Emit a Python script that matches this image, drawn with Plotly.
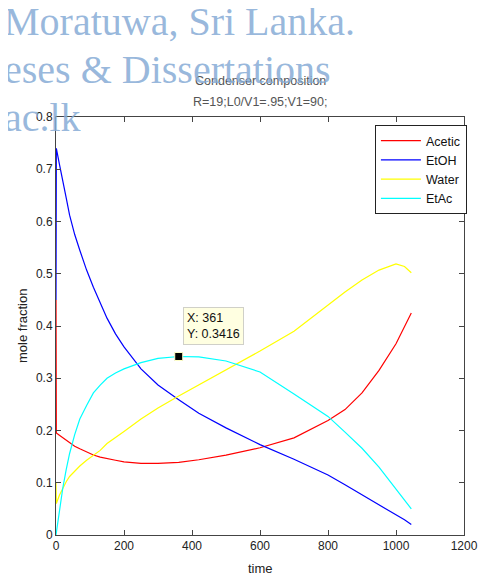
import plotly.graph_objects as go

# data (time vs mole fraction in condenser)
time = [0, 1, 10, 20, 30, 40, 55, 70, 90, 110, 130, 150, 175, 200, 250, 300, 361, 420,
        500, 600, 700, 800, 850, 900, 950, 1000, 1025, 1045]
acetic = [0.45, 0.195, 0.191, 0.186, 0.181, 0.176, 0.170, 0.165, 0.159, 0.153, 0.149, 0.146, 0.143, 0.140,
          0.137, 0.137, 0.139, 0.144, 0.153, 0.167, 0.186, 0.219, 0.240, 0.272, 0.315, 0.366, 0.398, 0.425]
etoh = [0.45, 0.74, 0.71, 0.68, 0.645, 0.612, 0.575, 0.545, 0.507, 0.474, 0.443, 0.415, 0.385, 0.360,
        0.318, 0.287, 0.259, 0.233, 0.205, 0.173, 0.145, 0.115, 0.096, 0.077, 0.058, 0.038, 0.029, 0.020]
water = [0.10, 0.06, 0.076, 0.09, 0.102, 0.112, 0.122, 0.132, 0.143, 0.153, 0.162, 0.175, 0.186, 0.198,
         0.222, 0.243, 0.266, 0.287, 0.315, 0.352, 0.390, 0.440, 0.465, 0.488, 0.507, 0.519, 0.514, 0.502]
etac = [0.0, 0.005, 0.05, 0.09, 0.125, 0.156, 0.192, 0.222, 0.248, 0.272, 0.287, 0.300, 0.310, 0.318,
        0.330, 0.338, 0.3416, 0.341, 0.333, 0.312, 0.270, 0.227, 0.197, 0.166, 0.130, 0.089, 0.068, 0.050]

names = ['Acetic', 'EtOH', 'Water', 'EtAc']
colors = ['#ff0000', '#0000ff', '#ffff00', '#00ffff']
series = [acetic, etoh, water, etac]

tip_x = 361
tip_y = 0.3416

x_ticks = [0, 200, 400, 600, 800, 1000, 1200]
y_ticks = [0, 0.1, 0.2, 0.3, 0.4, 0.5, 0.6, 0.7, 0.8]

FONT = 'Liberation Sans, Arial, sans-serif'

# page has an 8px body margin, so the figure is made smaller and everything
# below is given in page pixels
OFF = 8
W, H = 490 - OFF, 579 - OFF
L, R, T, B = 56, 476, 117, 535  # plot area, page pixels


def px(x):
    return (x - L) / (R - L)


def py(y):
    return (B - y) / (B - T)


fig = go.Figure()
for name, col, vals in zip(names, colors, series):
    fig.add_trace(go.Scatter(x=time, y=vals, name=name, mode='lines',
                             line=dict(color=col, width=1.2)))

# data tip marker
fig.add_trace(go.Scatter(x=[tip_x], y=[tip_y], mode='markers', showlegend=False,
                         marker=dict(symbol='square', size=8, color='black',
                                     line=dict(color='#ffffc8', width=1))))
fig.add_annotation(x=tip_x, y=tip_y, xref='x', yref='y', xanchor='left', yanchor='bottom',
                   xshift=4, yshift=12, showarrow=False, align='left',
                   text=f'X: {tip_x}<br>Y: {tip_y}',
                   font=dict(family=FONT, size=12.5, color='#111'),
                   bgcolor='#ffffe1', bordercolor='#d0d0c8', borderwidth=1, borderpad=3)

# title lines
fig.add_annotation(x=0.5, y=py(81), xref='paper', yref='paper', showarrow=False,
                   xanchor='center', yanchor='middle',
                   text='Condenser composition', font=dict(family=FONT, size=12.5, color='#555'))
fig.add_annotation(x=0.5, y=py(102), xref='paper', yref='paper', showarrow=False,
                   xanchor='center', yanchor='middle',
                   text='R=19;L0/V1=.95;V1=90;', font=dict(family=FONT, size=12.5, color='#555'))

# axis labels
fig.add_annotation(x=px(21), y=0.5, xref='paper', yref='paper', showarrow=False, textangle=-90,
                   xanchor='center', yanchor='middle',
                   text='mole fraction', font=dict(family=FONT, size=13, color='#222'))
fig.add_annotation(x=0.5, y=py(568), xref='paper', yref='paper', showarrow=False,
                   xanchor='center', yanchor='middle',
                   text='time', font=dict(family=FONT, size=13, color='#222'))

# watermark
wm_color = 'rgba(135,172,214,0.85)'
for txt, yc in [('Moratuwa, Sri Lanka.', 22), ('eses &amp; Dissertations', 69), ('ac.lk', 117)]:
    fig.add_annotation(x=px(0), y=py(yc), xref='paper', yref='paper', showarrow=False,
                       xanchor='left', yanchor='middle', text=txt,
                       font=dict(family='Liberation Serif, Times New Roman, serif', size=40, color=wm_color))

axis_style = dict(showline=True, linecolor='#444', linewidth=1, mirror='ticks',
                  ticks='inside', ticklen=5, tickcolor='#444', showgrid=False, zeroline=False,
                  tickfont=dict(family=FONT, size=12, color='#222'))

fig.update_xaxes(range=[0, 1200], tickvals=x_ticks, ticktext=[str(v) for v in x_ticks], **axis_style)
fig.update_yaxes(range=[0, 0.8], tickvals=y_ticks, ticktext=[f'{v:g}' for v in y_ticks], **axis_style)

fig.update_layout(
    width=W, height=H,
    margin=dict(l=L - OFF, r=W + OFF - R, t=T - OFF, b=H + OFF - B),
    paper_bgcolor='white', plot_bgcolor='white',
    showlegend=True,
    legend=dict(x=px(479), xanchor='right', y=py(125), yanchor='top',
                bgcolor='white', bordercolor='#222', borderwidth=1,
                font=dict(family=FONT, size=12.5, color='#111'),
                itemwidth=40),
)

fig.write_html('out.html')
